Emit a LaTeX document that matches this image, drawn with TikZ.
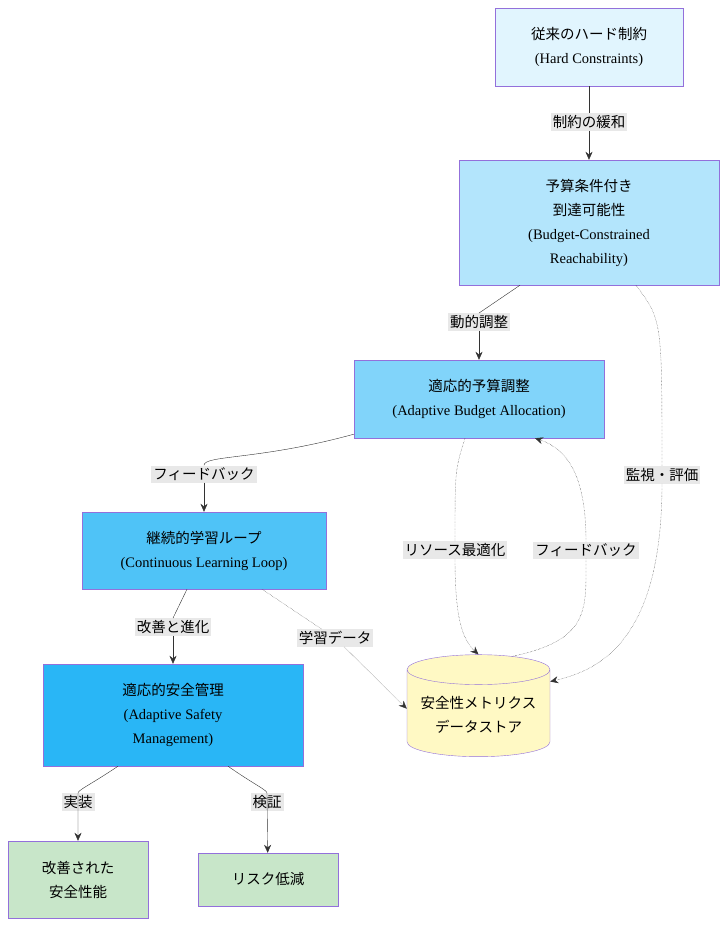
\documentclass[tikz,border=0pt]{standalone}
\usepackage{fontspec}
\setmainfont{Liberation Serif}
\newfontfamily\cjk{Noto Sans CJK JP}
\usetikzlibrary{arrows.meta,positioning,shapes.geometric}
\definecolor{edge}{RGB}{147,112,219}
\definecolor{lblbg}{RGB}{232,232,232}
\tikzset{
  box/.style={draw=edge, align=center, inner sep=2pt, font=\fontsize{14.5}{24}\selectfont},
  lbl/.style={fill=lblbg, inner sep=2pt, font=\cjk\fontsize{14.5}{18}\selectfont},
  arr/.style={draw=black!80, -{Stealth[length=8pt,width=7pt]}},
  dots/.style={arr, densely dotted}
}
\begin{document}
\begin{tikzpicture}[x=1pt,y=1pt,yscale=-1]
  \useasboundingbox (0,0) rectangle (727,927);

  % boxes
  \node[box, fill={rgb,255:red,225;green,245;blue,254}, minimum width=188pt, minimum height=78pt] (hard) at (589,47)
    {{\cjk 従来のハード制約}\\(Hard Constraints)};
  \node[box, fill={rgb,255:red,179;green,229;blue,252}, minimum width=260pt, minimum height=125pt] (budget) at (589,222.5)
    {{\cjk 予算条件付き}\\{\cjk 到達可能性}\\(Budget-Constrained\\Reachability)};
  \node[box, fill={rgb,255:red,129;green,212;blue,250}, minimum width=250pt, minimum height=78pt] (adapt) at (479,399)
    {{\cjk 適応的予算調整}\\(Adaptive Budget Allocation)};
  \node[box, fill={rgb,255:red,79;green,195;blue,247}, minimum width=244pt, minimum height=77pt] (loop) at (204,550.5)
    {{\cjk 継続的学習ループ}\\(Continuous Learning Loop)};
  \node[box, fill={rgb,255:red,41;green,182;blue,246}, minimum width=260pt, minimum height=102pt] (safety) at (173,715)
    {{\cjk 適応的安全管理}\\(Adaptive Safety\\Management)};
  \node[box, fill={rgb,255:red,200;green,230;blue,201}, minimum width=140pt, minimum height=77pt] (better) at (78,879.5)
    {{\cjk 改善された}\\{\cjk 安全性能}};
  \node[box, fill={rgb,255:red,200;green,230;blue,201}, minimum width=140pt, minimum height=53pt] (risk) at (268,879.5)
    {\cjk リスク低減};
  \node[box, cylinder, shape border rotate=90, aspect=0.25, fill={rgb,255:red,255;green,249;blue,196},
    minimum width=143pt, minimum height=102pt] (db) at (478.5,715)
    {{\cjk 安全性メトリクス}\\{\cjk データストア}};

  % labels
  \node[lbl] (l1) at (589,122) {制約の緩和};
  \node[lbl] (l2) at (479,322) {動的調整};
  \node[lbl] (l3) at (204,474) {フィードバック};
  \node[lbl] (l4) at (173,627) {改善と進化};
  \node[lbl] (l5) at (335,638) {学習データ};
  \node[lbl] (l6) at (455,550) {リソース最適化};
  \node[lbl] (l7) at (586,550) {フィードバック};
  \node[lbl] (l8) at (662,475) {監視・評価};
  \node[lbl] (l9) at (78,802) {実装};
  \node[lbl] (l10) at (267,802) {検証};

  % connectors
  \draw[draw=black!80] (hard) -- (l1);
  \draw[arr] (l1) -- (budget);
  \draw[draw=black!80] ([xshift=-69pt]budget.south) -- (l2.north);
  \draw[arr] (l2) -- (adapt);
  \draw[draw=black!80] ([yshift=-4pt]adapt.south west) .. controls (260,460) and (204,455) .. (l3.north);
  \draw[arr] (l3) -- (loop);
  \draw[draw=black!80] ([xshift=-17pt]loop.south) -- (l4.north);
  \draw[arr] (l4) -- (safety);
  \draw[arr] ([xshift=-55pt]safety.south) .. controls (90,785) and (78,790) .. (l9.north) -- (better);
  \draw[arr] ([xshift=55pt]safety.south) .. controls (255,785) and (267,790) .. (l10.north) -- (risk);
  \draw[densely dotted, draw=black!80] ([xshift=58pt]loop.south) -- (l5);
  \draw[dots] (l5) -- (db.175);
  \draw[densely dotted, draw=black!80] ([xshift=-14pt]adapt.south) .. controls (455,470) .. (l6.north);
  \draw[dots] (l6.south) .. controls (455,620) and (463,640) .. (db.top);
  \draw[densely dotted, draw=black!80] (db.60) .. controls (590,640) and (586,610) .. (l7.south);
  \draw[dots] (l7.north) .. controls (586,480) and (570,450) .. ([xshift=56pt]adapt.south);
  \draw[densely dotted, draw=black!80] ([xshift=47pt]budget.south) .. controls (662,320) .. (l8.north);
  \draw[dots] (l8.south) .. controls (662,640) and (600,670) .. (db.25);
\end{tikzpicture}
\end{document}
